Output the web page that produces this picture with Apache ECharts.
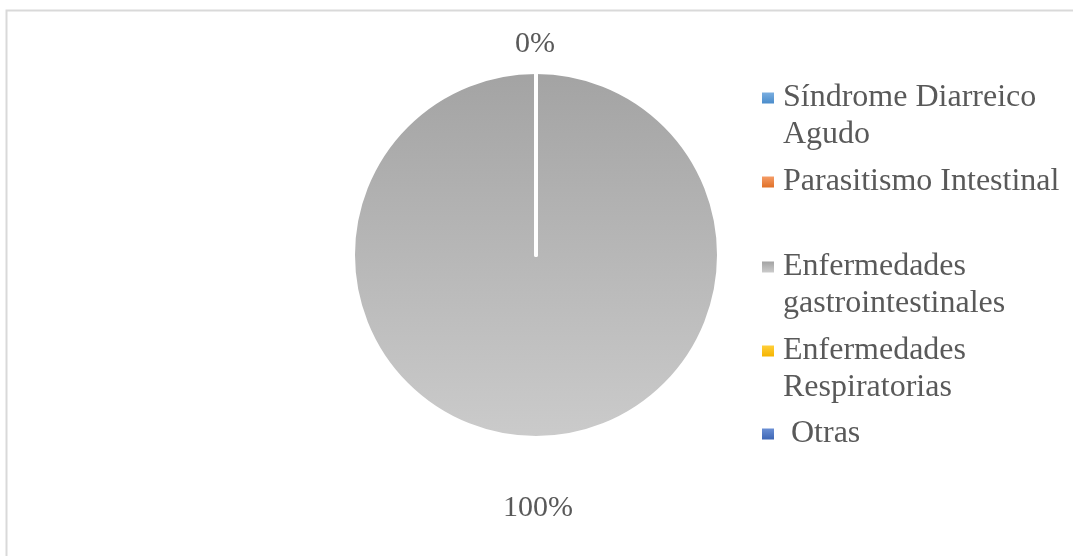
<!DOCTYPE html>
<html>
<head>
<meta charset="utf-8">
<script src="https://cdn.jsdelivr.net/npm/echarts@6/dist/echarts.min.js"></script>
<style>
  html, body { margin: 0; padding: 0; background: #ffffff; }
  #chart { width: 1073px; height: 556px; }
</style>
</head>
<body>
<div id="chart"></div>
<script>
// Causes of consultation (share of cases, %)
const categories = [
  'Síndrome Diarreico Agudo',
  'Parasitismo Intestinal',
  'Enfermedades gastrointestinales',
  'Enfermedades Respiratorias',
  'Otras'
];
const values = [0, 0, 100, 0, 0];
// Legend text as it wraps in the legend column
const legendText = [
  'Síndrome Diarreico\nAgudo',
  'Parasitismo Intestinal',
  'Enfermedades\ngastrointestinales',
  'Enfermedades\nRespiratorias',
  ' Otras'
];
// Which slice labels are written (the four empty slices share one spot)
const showLabel = [true, false, true, false, false];

const baseColors = [
  ['#7aaee0', '#4a8ccb'],
  ['#f59c66', '#e07027'],
  ['#a3a3a3', '#cbcbcb'],
  ['#ffcf3a', '#f5b400'],
  ['#6a8fd4', '#3d66b5']
];

function grad(c) {
  return {
    type: 'linear', x: 0, y: 0, x2: 0, y2: 1,
    colorStops: [{ offset: 0, color: c[0] }, { offset: 1, color: c[1] }]
  };
}

const FONT = "'Liberation Serif', 'Times New Roman', serif";
const TEXT = '#595959';
const LH = 37;

const chart = echarts.init(document.getElementById('chart'), null, { renderer: 'canvas' });

const seriesData = categories.map((name, i) => ({
  name,
  value: values[i],
  itemStyle: { color: grad(baseColors[i]) },
  label: { show: showLabel[i] }
}));

// One legend block per entry so each entry sits in its own row slot.
// Wrapped entries get a blank leading line so the marker lines up with
// their first line (legend text is centred on the marker).
const rowCenters = [98, 182, 267, 351, 434];
const legends = categories.map((name, i) => {
  const twoLines = legendText[i].indexOf('\n') >= 0;
  const shown = twoLines ? '\u00a0\n' + legendText[i] : legendText[i];
  return {
    orient: 'vertical',
    left: 762,
    top: rowCenters[i] - (twoLines ? LH * 1.5 : LH * 0.5),
    padding: 0,
    icon: 'rect',
    itemWidth: 12,
    itemHeight: 11,
    itemGap: 0,
    selectedMode: false,
    formatter: () => shown,
    textStyle: {
      fontFamily: FONT,
      fontSize: 32,
      lineHeight: LH,
      color: TEXT,
      padding: [0, 0, 0, 4]
    },
    data: [{ name, itemStyle: { color: grad(baseColors[i]), borderWidth: 0 } }]
  };
});

chart.setOption({
  animation: false,
  backgroundColor: '#ffffff',
  graphic: [{
    type: 'rect',
    shape: { x: 6.5, y: 10.5, width: 1200, height: 700 },
    style: { fill: null, stroke: '#d9d9d9', lineWidth: 2 },
    silent: true
  }],
  legend: legends,
  series: [{
    type: 'pie',
    center: [536, 255],
    radius: 183,
    startAngle: 90,
    clockwise: true,
    stillShowZeroSum: true,
    minAngle: 0,
    avoidLabelOverlap: false,
    itemStyle: { borderColor: '#ffffff', borderWidth: 4 },
    label: {
      show: true,
      position: 'outside',
      formatter: p => Math.round(p.percent) + '%',
      fontFamily: FONT,
      fontSize: 30,
      color: TEXT
    },
    labelLine: { show: false },
    labelLayout: function (p) {
      const r = p.rect;
      const cx = r.x + r.width / 2;
      if (p.dataIndex === 2) {
        return { x: cx + 2, y: r.y + r.height + 68, align: 'center', verticalAlign: 'middle' };
      }
      return { x: cx - 1, y: r.y - 26, align: 'center', verticalAlign: 'middle' };
    },
    emphasis: { disabled: true },
    data: seriesData
  }]
});
</script>
</body>
</html>
